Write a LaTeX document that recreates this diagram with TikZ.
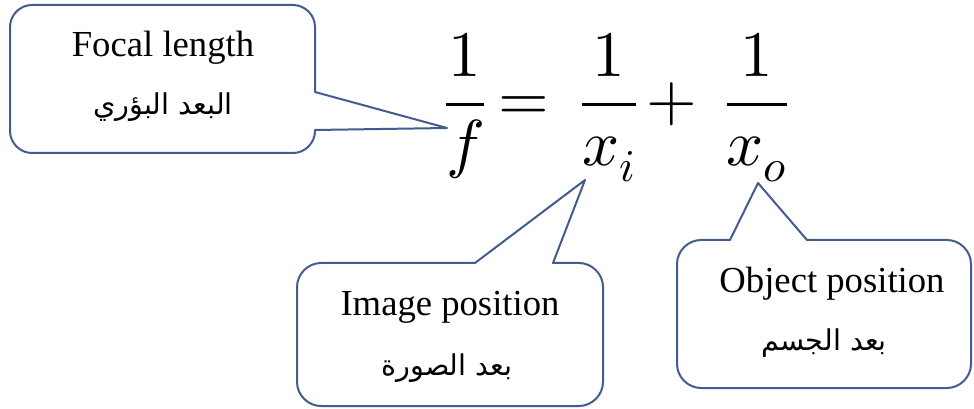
\documentclass[tikz,border=0pt]{standalone}
\usepackage{fontspec}
\usepackage{unicode-math}
\setmainfont{Liberation Serif}
\setmathfont{Latin Modern Math}
\newfontfamily\arabicfont[Script=Arabic]{DejaVu Sans}
\TeXXeTstate=1
\definecolor{outl}{RGB}{66,92,142}
\begin{document}
\begin{tikzpicture}[x=0.75pt,y=-0.75pt,
  co/.style={draw=outl,line width=1.5pt,line join=round,fill=white},
  en/.style={font=\fontsize{27.5}{30}\selectfont,anchor=base,inner sep=0pt},
  ar/.style={font=\arabicfont\fontsize{21.5}{24}\selectfont,anchor=base,inner sep=0pt},
  eqp/.style={font=\fontsize{48.75}{55}\selectfont,anchor=base,inner sep=0pt}]
\useasboundingbox (0,0) rectangle (974,409);
% equation parts
\node[eqp] (fr1) at (465,121) {$\displaystyle\frac{1}{f}$};
\node[eqp] (eqs) at (524,121) {$=$};
\node[eqp] (fr2) at (609,121) {$\displaystyle\frac{1}{x_i}$};
\node[eqp] (pls) at (672,121) {$+$};
\node[eqp] (fr3) at (757,121) {$\displaystyle\frac{1}{x_o}$};
% pointer tips
\coordinate (tipf) at (447,128);
\coordinate (tipi) at (585,180);
\coordinate (tipo) at (758,183);
% callout 1
\draw[co] (315,92) -- (tipf) -- (315,130) -- (315,131)
  .. controls (315,143) and (305,153) .. (293,153) -- (32,153)
  .. controls (20,153) and (10,143) .. (10,131) -- (10,27)
  .. controls (10,15) and (20,5) .. (32,5) -- (293,5)
  .. controls (305,5) and (315,15) .. (315,27) -- cycle;
% callout 2
\draw[co] (475,263) -- (tipi) -- (553,263) -- (579,263)
  .. controls (592,263) and (603,274) .. (603,287) -- (603,382)
  .. controls (603,395) and (592,406) .. (579,406) -- (321,406)
  .. controls (308,406) and (297,395) .. (297,382) -- (297,287)
  .. controls (297,274) and (308,263) .. (321,263) -- cycle;
% callout 3
\draw[co] (730,240) -- (tipo) -- (807,240) -- (947,240)
  .. controls (960,240) and (971,251) .. (971,264) -- (971,364)
  .. controls (971,377) and (960,388) .. (947,388) -- (701,388)
  .. controls (688,388) and (677,377) .. (677,364) -- (677,264)
  .. controls (677,251) and (688,240) .. (701,240) -- cycle;
% texts
\node[en] (t1) at (163,57) {Focal length};
\node[ar] (a1) at (163,115) {\beginR البعد البؤري\endR};
\node[en] (t2) at (450,316) {Image position};
\node[ar] (a2) at (447,375) {\beginR بعد الصورة\endR};
\node[en] (t3) at (832,293) {Object position};
\node[ar] (a3) at (824,350) {\beginR بعد الجسم\endR};
\end{tikzpicture}
\end{document}
